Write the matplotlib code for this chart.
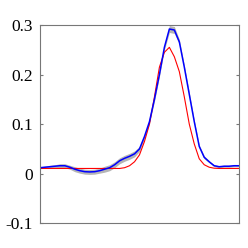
import numpy as np
import matplotlib
matplotlib.use("Agg")
import matplotlib.pyplot as plt

# mean estimate (blue), its spread (gray) and the reference curve (red)
mean_vals = [0.012, 0.013, 0.014, 0.015, 0.016, 0.016, 0.013, 0.009, 0.006, 0.004,
             0.0035, 0.004, 0.006, 0.009, 0.012, 0.018, 0.026, 0.031, 0.035, 0.040,
             0.050, 0.075, 0.105, 0.150, 0.200, 0.255, 0.292, 0.290, 0.266, 0.215,
             0.160, 0.105, 0.055, 0.033, 0.024, 0.016, 0.014, 0.015, 0.015, 0.016,
             0.016]
spread = [0.002, 0.002, 0.003, 0.003, 0.004, 0.004, 0.004, 0.005, 0.005, 0.005,
          0.005, 0.005, 0.005, 0.006, 0.006, 0.006, 0.006, 0.006, 0.006, 0.006,
          0.005, 0.004, 0.004, 0.004, 0.004, 0.005, 0.007, 0.007, 0.005, 0.004,
          0.004, 0.003, 0.003, 0.003, 0.002, 0.002, 0.002, 0.002, 0.002, 0.002,
          0.002]
true_vals = [0.0105] * 17 + [0.012, 0.016, 0.024, 0.038, 0.065, 0.100, 0.155, 0.215,
             0.245, 0.255, 0.236, 0.206, 0.155, 0.100, 0.060, 0.030, 0.018, 0.013,
             0.011] + [0.0105] * 5
ytick_vals = [-0.1, 0, 0.1, 0.2, 0.3]
ytick_text = ['-0.1', '0', '0.1', '0.2', '0.3']

x = np.linspace(0, 1, len(mean_vals))
mean_vals = np.array(mean_vals)
spread = np.array(spread)

fig = plt.figure(figsize=(2.48, 2.48), dpi=100)
ax = fig.add_axes([0.161, 0.1, 0.803, 0.799])

ax.fill_between(x, mean_vals - spread, mean_vals + spread, color='#a8a8a8',
                alpha=0.85, linewidth=0)
ax.plot(x, true_vals, color='red', linewidth=0.8)
ax.plot(x, mean_vals, color='blue', linewidth=1.1)

ax.set_xlim(0, 1)
ax.set_ylim(-0.1, 0.3)
ax.set_yticks(ytick_vals)
ax.set_yticklabels(ytick_text, family='Liberation Serif', fontsize=12.5)
ax.set_xticks([])
ax.tick_params(axis='y', direction='in', length=2.5, color='#777777',
               pad=5, right=True)
for s in ax.spines.values():
    s.set_color('#777777')
    s.set_linewidth(0.8)

fig.savefig("out.png", dpi=100)
